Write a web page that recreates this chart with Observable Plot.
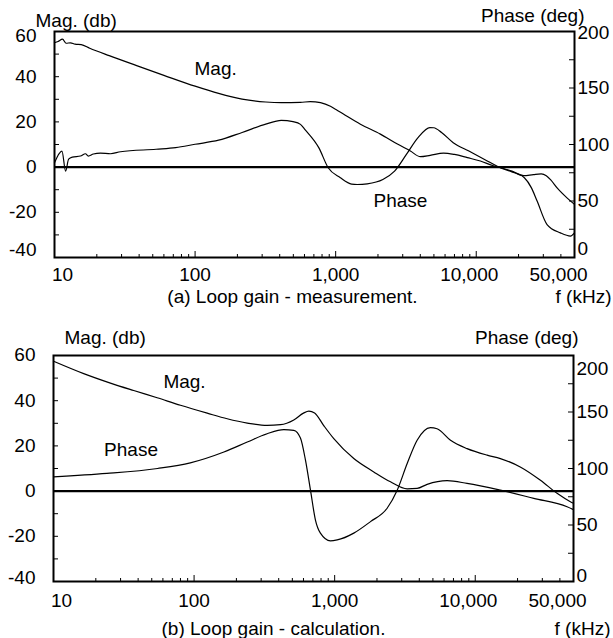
<!DOCTYPE html>
<html><head><meta charset="utf-8">
<script src="https://cdn.jsdelivr.net/npm/d3@7"></script>
<script src="https://cdn.jsdelivr.net/npm/@observablehq/plot@0.6"></script>
<style>
body{margin:0;background:#fff;}
#chart svg{display:block;}
</style></head><body><div id="chart"></div>
<script>
// ---- axis ticks ----
const magTicks = [-40, -20, 0, 20, 40, 60];
const magMinorTicks = [-30, -10, 10, 30, 50];
const phaseTicks = [0, 50, 100, 150, 200];
const phaseMinorTicks = [25, 75, 125, 175];
const freqTicks = [10, 100, 1000, 10000, 50000];
const freqTickLabels = ["10", "100", "1,000", "10,000", "50,000"];
const freqMinorTicks = [20,30,40,50,60,70,80,90,200,300,400,500,600,700,800,900,2000,3000,4000,5000,6000,7000,8000,9000,20000,30000,40000];
const freqMajorInner = [100, 1000, 10000];

// ---- (a) measurement ----
const magAFreq = [10,10.6,11.4,12.1,13,14,15.5,17.8,24.5,38.4,60,100,147,216,318,410,560,660,780,918,1005,1135,1500,2080,2750,3400,4010,4700,5850,7000,8650,10700,13250,15000,17940,21730,25500,29000,31500,34000,37600,44200,50000];
const magADb   = [55.0,55.6,56.6,54.8,55.0,54.4,54.2,52.6,49.3,44.9,40.6,35.8,32.6,30.1,28.8,28.5,28.6,29.0,28.5,26.9,25.5,23.5,19.0,14.6,10.2,7.1,4.6,5.2,6.2,5.6,4.2,2.7,0.6,-0.3,-1.8,-3.8,-3.3,-3.0,-3.8,-5.8,-9.2,-13.6,-16.5];
const phaseAFreq = [10,11.3,12.0,12.6,13.4,15.3,16.6,17.4,18.9,21.2,25,29.5,52.8,72.8,100,147,216,318,410,497,562,603,760,885,1080,1298,1422,1678,2167,2625,3186,3855,4677,4990,5665,6860,8868,11460,14800,17940,22000,24700,27100,31900,39700,46800,50000];
const phaseADeg  = [83.8,94.2,76.4,87,88.8,89.8,91.8,89.8,91.6,92.4,91.8,93.6,95.8,97.2,100.2,103.8,110.6,118,121.4,120.2,117.8,113.4,97,79.4,70.6,65,64.6,65.2,69,76.4,91.2,106,115,114.8,110.6,101.6,94.2,86.8,79.4,75.8,70.6,61.6,50,29.2,21.8,19,21.8];

// ---- (b) calculation ----
const magBFreq = [10,16.4,25.4,37.2,54.6,80,124,172,239,331,412,512,600,655,720,836,986,1368,1898,2494,3280,3860,4550,6310,8750,15100,26100,45000,50000];
const magBDb   = [57.5,52,47.8,44.5,41.3,38,34.5,32,30.1,29.1,29.4,31.5,34.5,35.4,34.6,29,23.2,14.4,8.5,4.1,1.0,1.2,3.0,4.6,3.4,0.4,-3.2,-6.9,-8.2];
const phaseBFreq = [10,24,55,94,163,239,331,435,512,571,620,673,730,792,933,1042,1368,1798,2362,2785,3280,3860,4800,5350,6670,8750,12150,15100,20900,29100,38200,47500,50000];
const phaseBDeg  = [92.6,95.6,100,105,114.6,123.4,130.8,134.4,133.8,127,107.4,80.8,54.4,42.8,36,36.8,42.8,53,64.8,80.8,104.4,125,136.2,135.2,125,117.6,111.8,108.8,101.4,89.6,78,70.6,69.2];

// ---- in-chart labels ----
const labelsA = [{f: 140, v: 43.4, t: "Mag."}, {f: 2890, v: -15, t: "Phase"}];
const labelsB = [{f: 85.5, v: 48.2, t: "Mag."}, {f: 35.6, v: 18.3, t: "Phase"}];

// phase (0..200 deg) shares the frame with magnitude (-40..60 dB)
const phaseToDb = p => -40 + p * 0.5;
const zip = (xs, ys) => xs.map((x, i) => ({x, y: ys[i]}));

function panel(o) {
  const W = 613, H = 319;
  const fw = W - o.mL - o.mR, fh = H - o.mT - o.mB;
  const magMid = magTicks.filter(d => d !== 60 && d !== -40);
  const phMid = phaseTicks.filter(d => d !== 200 && d !== 0);
  const la = {lineAnchor: "middle"};
  return Plot.plot({
    width: W, height: H,
    marginTop: o.mT, marginBottom: o.mB, marginLeft: o.mL, marginRight: o.mR,
    x: {type: "log", domain: [10, 50000], axis: null},
    y: {domain: [-40, 60], axis: null},
    style: {fontFamily: "'Liberation Sans', Arial, sans-serif", fontSize: "19px", color: "#000", background: "#fff", overflow: "visible"},
    marks: [
      Plot.ruleY([0], {stroke: "#000", strokeWidth: 2.2}),
      Plot.line(zip(o.magF, o.magV), {x: "x", y: "y", curve: "monotone-x", stroke: "#000", strokeWidth: 1.2}),
      Plot.line(zip(o.phF, o.phV), {x: "x", y: d => phaseToDb(d.y), curve: "monotone-x", stroke: "#000", strokeWidth: 1.2}),
      Plot.frame({stroke: "#000", strokeWidth: 2}),
      // inner ticks
      Plot.tickY(magTicks.concat(magMinorTicks), {y: d => d, insetRight: fw - 5, stroke: "#000"}),
      Plot.tickY(phaseTicks.concat(phaseMinorTicks), {y: d => phaseToDb(d), insetLeft: fw - 5, stroke: "#000"}),
      Plot.tickX(freqMinorTicks, {x: d => d, insetTop: fh - 3, stroke: "#000"}),
      Plot.tickX(freqMajorInner, {x: d => d, insetTop: fh - 6, stroke: "#000"}),
      // left tick labels
      Plot.text(magMid, {y: d => d, text: d => String(d), frameAnchor: "left", textAnchor: "end", dx: -18, ...la}),
      Plot.text([60], {y: d => d, text: d => String(d), frameAnchor: "left", textAnchor: "end", dx: -18, dy: o.topMagDy, ...la}),
      Plot.text([-40], {y: d => d, text: d => String(d), frameAnchor: "left", textAnchor: "end", dx: -18, dy: o.botMagDy, ...la}),
      // right tick labels
      Plot.text(phMid, {y: d => phaseToDb(d), text: d => String(d), frameAnchor: "right", textAnchor: "start", dx: 3, ...la}),
      Plot.text([200], {y: d => phaseToDb(d), text: d => String(d), frameAnchor: "right", textAnchor: "start", dx: 3, dy: o.topPhDy, ...la}),
      Plot.text([0], {y: d => phaseToDb(d), text: d => String(d), frameAnchor: "right", textAnchor: "start", dx: 3, dy: o.botPhDy, ...la}),
      // bottom tick labels
      Plot.text(freqTicks.slice(1, 3), {x: d => d, text: (d, i) => freqTickLabels[i + 1], frameAnchor: "bottom", dy: o.xLabDy, ...la}),
      Plot.text([freqTicks[0]], {x: d => d, text: () => freqTickLabels[0], frameAnchor: "bottom", dy: o.xLabDy, dx: 8, ...la}),
      Plot.text([freqTicks[3]], {x: d => d, text: () => freqTickLabels[3], frameAnchor: "bottom", dy: o.xLabDy, dx: -7, ...la}),
      Plot.text([freqTicks[4]], {x: d => d, text: () => freqTickLabels[4], frameAnchor: "bottom", dy: o.xLabDy, dx: -16, ...la}),
      // titles
      Plot.text(["Mag. (db)"], {frameAnchor: "top-left", textAnchor: "start", dx: o.magTitleDx, dy: o.magTitleDy, ...la}),
      Plot.text(["Phase (deg)"], {frameAnchor: "top-right", textAnchor: "end", dx: o.phTitleDx, dy: o.phTitleDy, ...la}),
      Plot.text([o.caption], {frameAnchor: "bottom", dx: o.capDx, dy: o.capDy, ...la}),
      Plot.text(["f (kHz)"], {frameAnchor: "bottom-right", textAnchor: "end", dx: 37, dy: o.capDy, ...la}),
      // curve labels
      Plot.text(o.labels, {x: "f", y: "v", text: "t", ...la})
    ]
  });
}

const chart = document.getElementById("chart");
chart.append(panel({
  mT: 31, mB: 62, mL: 54, mR: 39,
  magF: magAFreq, magV: magADb, phF: phaseAFreq, phV: phaseADeg,
  labels: labelsA, caption: "(a) Loop gain - measurement.",
  topMagDy: 4, botMagDy: -8, topPhDy: 1, botPhDy: -9,
  xLabDy: 17, capDy: 39, capDx: -22,
  magTitleDx: -19, magTitleDy: -11, phTitleDx: 10, phTitleDy: -16
}));
chart.append(panel({
  mT: 36, mB: 57, mL: 53, mR: 40,
  magF: magBFreq, magV: magBDb, phF: phaseBFreq, phV: phaseBDeg,
  labels: labelsB, caption: "(b) Loop gain - calculation.",
  topMagDy: -1, botMagDy: -4, topPhDy: 13, botPhDy: -6,
  xLabDy: 19, capDy: 47, capDx: -40,
  magTitleDx: 11, magTitleDy: -18, phTitleDx: 5, phTitleDy: -18
}));
</script></body></html>
